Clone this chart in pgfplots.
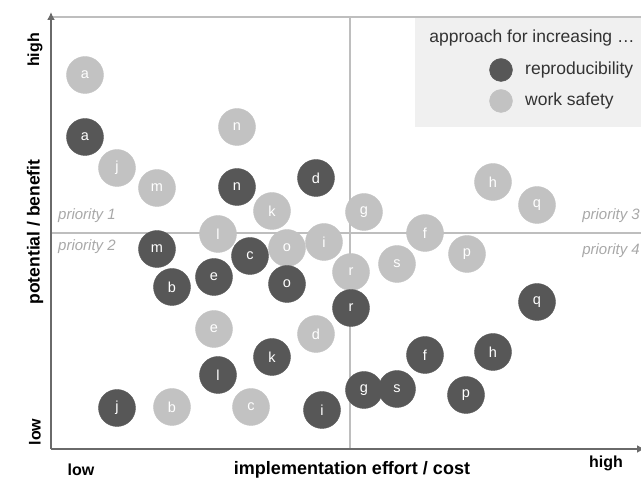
\documentclass[border=0pt]{standalone}
\usepackage{pgfplots}
\pgfplotsset{compat=1.18}
\usepackage{pgfplotstable}
\usepackage{fontspec}
\setmainfont{Liberation Sans}
\usetikzlibrary{arrows.meta}
\definecolor{darkc}{HTML}{575757}
\definecolor{lightc}{HTML}{C2C2C2}
\definecolor{lineg}{HTML}{BEBEBE}
\definecolor{axisg}{HTML}{6A6A6A}
\definecolor{prio}{HTML}{A8A8A8}
\definecolor{legbg}{HTML}{F0F0F0}

\pgfplotstableread{
x y label
34 374 a
186 322 n
66 281 j
106 261 m
221 238 k
167 215 l
273 207 i
236 201 o
313 237 g
374 216 f
346 185 s
300 177 r
416 195 p
442 267 h
486 244 q
163 120 e
265 115 d
121 42 b
200 42 c
}\worksafety

\pgfplotstableread{
x y label
34 312 a
186 262 n
265 271 d
106 200 m
121 162 b
163 172 e
199 193 c
236 165 o
300 141 r
221 92 k
167 74 l
66 41 j
271 39 i
313 59 g
346 60 s
374 94 f
442 97 h
415 54 p
486 147 q
}\reproducibility

\begin{document}
\begin{tikzpicture}
\useasboundingbox (-51pt,-29pt) rectangle (590pt,449pt);
\begin{axis}[
  x=1pt, y=1pt,
  xmin=0, xmax=590, ymin=0, ymax=435,
  axis lines=none,
  clip=false,
  every node near coord/.style={anchor=center, font=\fontsize{14.5}{14.5}\selectfont, text=white},
]
% background lines
\draw[lineg, line width=1.5pt] (axis cs:0,432) -- (axis cs:590,432);
\fill[legbg] (axis cs:364,322) rectangle (axis cs:590,431);
\draw[lineg, line width=2pt] (axis cs:299,0) -- (axis cs:299,432);
\draw[lineg, line width=2pt] (axis cs:0,216) -- (axis cs:590,216);
% axes
\draw[axisg, line width=2pt, -{Latex[length=8pt,width=8pt]}] (axis cs:0,0) -- (axis cs:0,437);
\draw[axisg, line width=2pt, -{Latex[length=8pt,width=8pt]}] (axis cs:0,0) -- (axis cs:594,0);

\addplot[only marks, mark=*, mark size=18.5pt, mark options={fill=lightc, draw=lightc},
  nodes near coords, point meta=explicit symbolic]
  table[x=x, y=y, meta=label] {\worksafety};
\addplot[only marks, mark=*, mark size=18.5pt, mark options={fill=darkc, draw=darkc},
  nodes near coords, point meta=explicit symbolic]
  table[x=x, y=y, meta=label] {\reproducibility};

% legend markers
\addplot[only marks, mark=*, mark size=11.5pt, mark options={fill=darkc, draw=darkc}] coordinates {(450,379)};
\addplot[only marks, mark=*, mark size=11.5pt, mark options={fill=lightc, draw=lightc}] coordinates {(450,348)};
\node[anchor=center, text=black!80, font=\fontsize{17.5}{17.5}\selectfont] at (axis cs:481,411) {approach for increasing \dots};
\node[anchor=west, inner sep=0pt, text=black!80, font=\fontsize{17.5}{17.5}\selectfont] at (axis cs:474,379) {reproducibility};
\node[anchor=west, inner sep=0pt, text=black!80, font=\fontsize{17.5}{17.5}\selectfont] at (axis cs:474,348) {work safety};

% priority labels
\node[anchor=west, inner sep=0pt, text=prio, font=\fontsize{15}{15}\selectfont\itshape] at (axis cs:7,233) {priority 1};
\node[anchor=west, inner sep=0pt, text=prio, font=\fontsize{15}{15}\selectfont\itshape] at (axis cs:7,202) {priority 2};
\node[anchor=east, inner sep=0pt, text=prio, font=\fontsize{15}{15}\selectfont\itshape] at (axis cs:589,233) {priority 3};
\node[anchor=east, inner sep=0pt, text=prio, font=\fontsize{15}{15}\selectfont\itshape] at (axis cs:589,198) {priority 4};

% axis labels
\node[rotate=90, anchor=center, font=\fontsize{16}{16}\selectfont\bfseries] at (axis cs:-16,399) {high};
\node[rotate=90, anchor=center, font=\fontsize{17.5}{17.5}\selectfont\bfseries] at (axis cs:-16,217) {potential / benefit};
\node[rotate=90, anchor=center, font=\fontsize{16}{16}\selectfont\bfseries] at (axis cs:-16,17) {low};
\node[anchor=base, inner sep=0pt, font=\fontsize{16}{16}\selectfont\bfseries] at (axis cs:30,-27) {low};
\node[anchor=base, inner sep=0pt, font=\fontsize{18}{18}\selectfont\bfseries] at (axis cs:301,-26) {implementation effort / cost};
\node[anchor=base, inner sep=0pt, font=\fontsize{16}{16}\selectfont\bfseries] at (axis cs:555,-19) {high};
\end{axis}
\end{tikzpicture}
\end{document}
